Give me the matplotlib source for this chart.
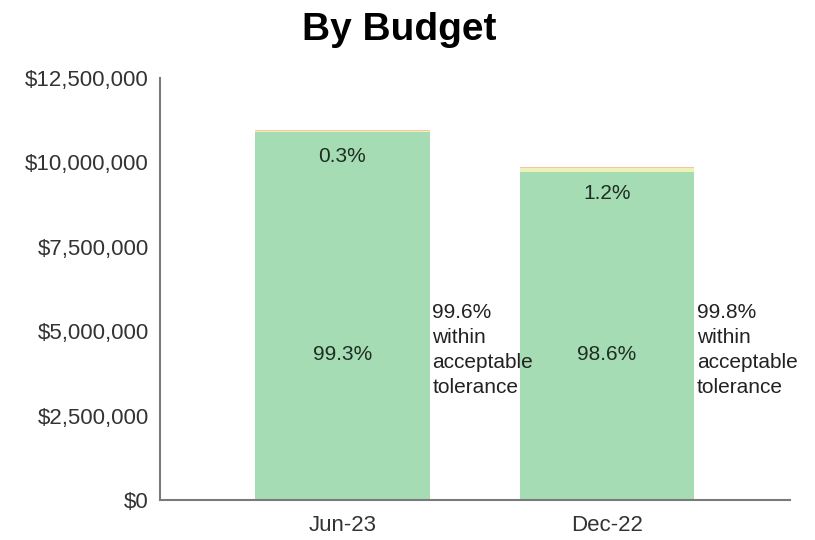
import matplotlib.pyplot as plt
from matplotlib.ticker import FuncFormatter

plt.rcParams['font.family'] = ['Liberation Sans', 'DejaVu Sans']

periods = ['Jun-23', 'Dec-22']
totals = [10960000, 9860000]
pct_within = [99.3, 98.6]
pct_acceptable = [0.3, 1.2]
pct_outside = [0.4, 0.2]
tolerance_labels = ['99.6%\nwithin\nacceptable\ntolerance',
                    '99.8%\nwithin\nacceptable\ntolerance']

green = '#a6dcb4'
yellow = '#eef2b8'
orange = '#f2c6a6'

fig = plt.figure(figsize=(8.15, 5.4), dpi=100)
ax = fig.add_axes([0.196, 0.074, 0.773, 0.782])

x = list(range(len(periods)))
h_within = [t * p / 100 for t, p in zip(totals, pct_within)]
h_accept = [t * p / 100 for t, p in zip(totals, pct_acceptable)]
h_out = [t * p / 100 for t, p in zip(totals, pct_outside)]
base_out = [a + b for a, b in zip(h_within, h_accept)]

w = 0.66
ax.bar(x, h_within, width=w, color=green)
ax.bar(x, h_accept, width=w, bottom=h_within, color=yellow)
ax.bar(x, h_out, width=w, bottom=base_out, color=orange)

for i in x:
    ax.text(i, 4300000, f'{pct_within[i]}%', ha='center', va='center',
            fontsize=15, color='#1e2e22')
    # small segment label sits just under the bar top
    ax.text(i, totals[i] - 780000, f'{pct_acceptable[i]}%', ha='center',
            va='center', fontsize=15, color='#1e2e22')
    ax.text(i + w / 2 + 0.01, 4450000, tolerance_labels[i], ha='left',
            va='center', fontsize=15, color='#222222', linespacing=1.4)

ax.set_xlim(-0.69, 1.69)
ax.set_ylim(0, 12500000)
ax.set_yticks([0, 2500000, 5000000, 7500000, 10000000, 12500000])
ax.yaxis.set_major_formatter(FuncFormatter(lambda v, _: f'${v:,.0f}'))
ax.set_xticks(x)
ax.set_xticklabels(periods)
ax.tick_params(axis='both', length=0, labelsize=16, colors='#333333')
ax.tick_params(axis='y', pad=8)
ax.tick_params(axis='x', pad=11)

for side in ['top', 'right']:
    ax.spines[side].set_visible(False)
for side in ['left', 'bottom']:
    ax.spines[side].set_color('#7a7a7a')
    ax.spines[side].set_linewidth(1.5)

fig.text(0.49, 0.945, 'By Budget', ha='center', va='center', fontsize=28,
         fontweight='bold')

fig.savefig('out.png', dpi=100)
